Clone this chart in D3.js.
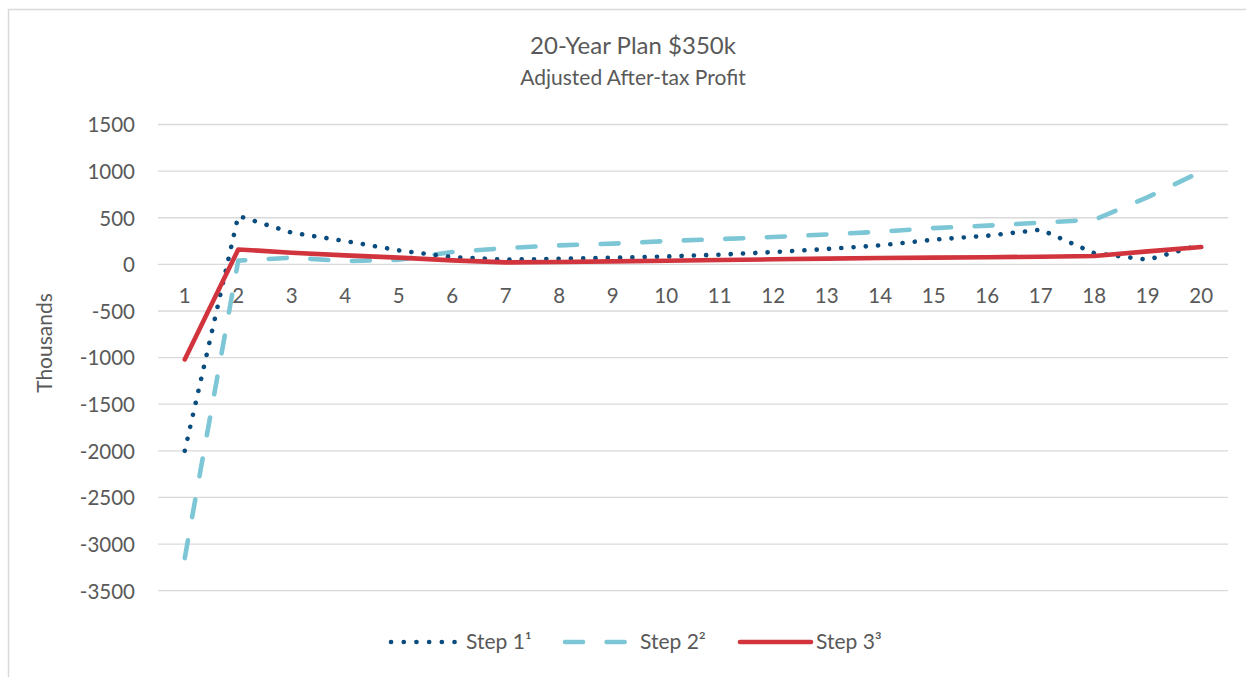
<!DOCTYPE html>
<html>
<head>
<meta charset="utf-8">
<script src="https://cdn.jsdelivr.net/npm/d3@7"></script>
<style>
  html, body { margin: 0; padding: 0; background: #fff; }
  svg { display: block; }
  text { font-family: Lato, "Open Sans", sans-serif; fill: #595959; }
</style>
</head>
<body>
<svg id="chart" width="1246" height="677"></svg>
<script>
const years = d3.range(1, 21).map(String);
const step1 = [-2000, 520, 340, 250, 150, 78, 50, 60, 70, 85, 104, 132, 164, 204, 265, 307, 372, 120, 50, 211];
const step2 = [-3150, 40, 72, 35, 50, 132, 175, 204, 222, 250, 271, 293, 321, 350, 389, 415, 447, 479, 721, 995];
const step3 = [-1020, 160, 125, 96, 72, 43, 21, 25, 32, 39, 46, 54, 61, 68, 72, 77, 82, 90, 139, 186];
const yTicks = [1500, 1000, 500, 0, -500, -1000, -1500, -2000, -2500, -3000, -3500];
const seriesNames = ["Step 1\u00b9", "Step 2\u00b2", "Step 3\u00b3"];

const svg = d3.select("#chart");

// outer chart border
svg.append("path")
  .attr("d", "M8.5,680 L8.5,9.5 L1250,9.5")
  .attr("fill", "none").attr("stroke", "#d9d9d9").attr("stroke-width", 1.5);

const x = d3.scaleBand().domain(years).range([158, 1228]);
const y = d3.scaleLinear().domain([-3500, 1500]).range([590.7, 124.5]);
const cx = d => x(d) + x.bandwidth() / 2;

// gridlines
svg.append("g").selectAll("line").data(yTicks).join("line")
  .attr("x1", 158).attr("x2", 1228)
  .attr("y1", d => y(d)).attr("y2", d => y(d))
  .attr("stroke", "#d9d9d9").attr("stroke-width", 1.3);

// y axis labels
const yAxis = d3.axisLeft(y).tickValues(yTicks).tickSize(0).tickPadding(0).tickFormat(d => String(d));
const gy = svg.append("g").attr("transform", "translate(135,0)").call(yAxis);
gy.select(".domain").remove();
gy.selectAll("text").attr("font-size", 20.5).attr("fill", "#595959")
  .style("font-family", "Lato, sans-serif").attr("dy", "0.36em");

// x axis labels (placed below zero line)
const xAxis = d3.axisBottom(x).tickSize(0).tickPadding(0);
const gx = svg.append("g").attr("transform", `translate(0,${y(0) + 24})`).call(xAxis);
gx.select(".domain").remove();
gx.selectAll("text").attr("font-size", 20.5).attr("fill", "#595959")
  .style("font-family", "Lato, sans-serif").attr("dy", "0.71em");

// axis title
svg.append("text").attr("transform", "translate(52,343) rotate(-90)")
  .attr("text-anchor", "middle").attr("font-size", 21).text("Thousands");

// titles
svg.append("text").attr("x", 633).attr("y", 54).attr("text-anchor", "middle")
  .attr("font-size", 24).text("20-Year Plan $350k");
svg.append("text").attr("x", 633).attr("y", 85).attr("text-anchor", "middle")
  .attr("font-size", 21).text("Adjusted After-tax Profit");

const line = d3.line().x((d, i) => cx(years[i])).y(d => y(d)).curve(d3.curveLinear);

const styles = [
  { data: step1, color: "#0B4C7E", dash: "0.1 12.2", width: 4.6 },
  { data: step2, color: "#7CC6D6", dash: "18 23.6", width: 4.6 },
  { data: step3, color: "#D1343D", dash: null, width: 4.6 }
];

const order = [1, 0, 2];
order.forEach(k => {
  const s = styles[k];
  svg.append("path").attr("d", line(s.data))
    .attr("fill", "none").attr("stroke", s.color).attr("stroke-width", s.width)
    .attr("stroke-linecap", "round").attr("stroke-linejoin", "round")
    .attr("stroke-dasharray", s.dash);
});

// legend
const legendY = 642;
const legendItems = [
  { x1: 391, x2: 456, tx: 466 },
  { x1: 565, x2: 628, tx: 640 },
  { x1: 740, x2: 811, tx: 816 }
];
legendItems.forEach((it, i) => {
  const s = styles[i];
  svg.append("line").attr("x1", it.x1).attr("x2", it.x2).attr("y1", legendY).attr("y2", legendY)
    .attr("stroke", s.color).attr("stroke-width", s.width)
    .attr("stroke-linecap", "round")
    .attr("stroke-dasharray", i === 0 ? "0.1 12.6" : (i === 1 ? "18 23.6" : null));
  svg.append("text").attr("x", it.tx).attr("y", legendY).attr("dy", "0.35em")
    .attr("font-size", 21).text(seriesNames[i]);
});
</script>
</body>
</html>
